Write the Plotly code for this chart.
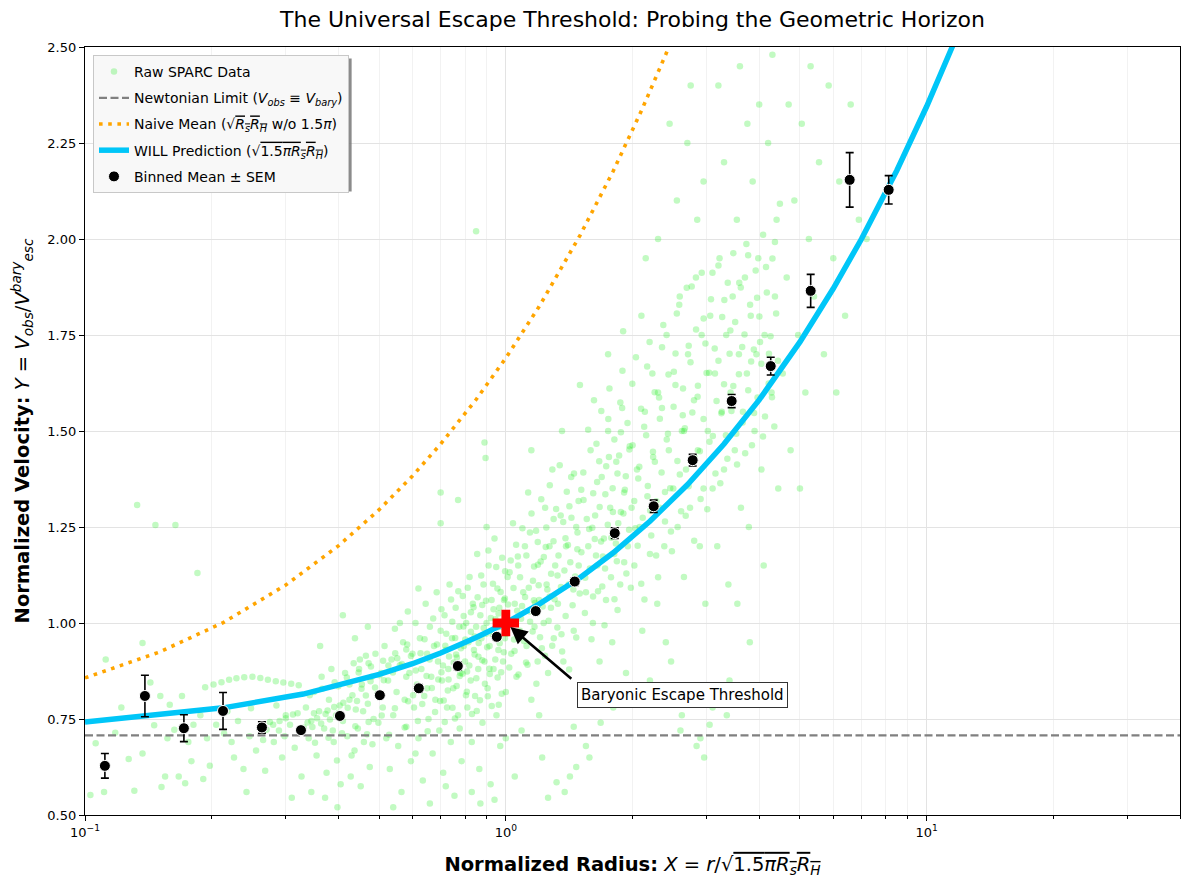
import numpy as np
import plotly.graph_objects as go

# ---- data ----
# raw SPARC points (normalized radius X, normalized velocity Y), grouped by radius range
raw_inner = [(0.103,0.552),(0.111,0.560),(0.131,0.563),(0.127,0.646),(0.106,0.687),(0.118,0.714),(0.137,0.948),
	(0.133,1.307),(0.147,1.255),(0.164,1.255),(0.185,1.130),(0.137,0.660),(0.155,0.600),(0.152,0.573),(0.167,0.600),
	(0.173,0.583),(0.179,0.640),(0.151,0.810),(0.159,0.787),(0.170,0.810),(0.146,0.734),(0.157,0.700),(0.163,0.722),
	(0.191,0.594),(0.198,0.628),(0.112,0.905),(0.122,0.780),(0.143,0.845),(0.188,0.760),(0.195,0.700),(0.181,0.735),
	(0.176,0.690)]
raw_band = [(0.193,0.833),(0.202,0.840),(0.211,0.846),(0.220,0.852),(0.229,0.856),(0.239,0.859),(0.250,0.860),
	(0.261,0.857),(0.272,0.852),(0.284,0.848),(0.296,0.845),(0.309,0.842),(0.322,0.838),
	(0.270,0.722),(0.280,0.735),(0.290,0.745),(0.300,0.752),(0.312,0.762)]
raw_low = [(0.205,0.735),(0.214,0.712),(0.223,0.690),(0.231,0.745),(0.238,0.620),(0.246,0.705),(0.255,0.668),
	(0.262,0.728),(0.268,0.615),(0.275,0.742),(0.281,0.690),(0.289,0.720),(0.294,0.650),(0.300,0.760),(0.307,0.735),
	(0.315,0.675),(0.320,0.765),(0.327,0.600),(0.218,0.770),(0.248,0.778),(0.285,0.785),(0.242,0.560),(0.310,0.545),
	(0.226,0.650),(0.265,0.695),(0.298,0.705),
	(0.335,0.780),(0.340,0.700),(0.345,0.745),(0.350,0.820),(0.355,0.655),(0.360,0.770),(0.365,0.860),(0.370,0.725),
	(0.375,0.610),(0.380,0.800),(0.385,0.880),(0.390,0.690),(0.395,0.760),(0.400,0.835),(0.405,0.580),(0.410,0.745),
	(0.415,0.870),(0.420,0.705),(0.425,0.800),(0.430,0.655),(0.435,0.895),(0.440,0.775),(0.445,0.725),(0.450,0.905),
	(0.455,0.840),(0.460,0.690),(0.465,0.915),(0.470,0.790),(0.475,0.625),(0.480,0.860),(0.485,0.750),(0.490,0.920),
	(0.495,0.815),(0.345,0.560),(0.372,0.545),(0.398,0.520),(0.428,0.600),(0.452,0.575),(0.438,0.960),(0.470,0.990),
	(0.362,0.940),(0.410,1.020),(0.388,0.720),(0.468,0.710),(0.458,0.770),(0.498,0.740),(0.350,0.765),(0.377,0.772),
	(0.403,0.785),(0.425,0.840),(0.448,0.880),(0.472,0.895)]
raw_tracks = [(0.331,0.728),(0.338,0.741),(0.347,0.729),(0.356,0.752),(0.364,0.738),(0.373,0.763),(0.382,0.749),
	(0.391,0.781),(0.401,0.766),(0.411,0.792),(0.421,0.779),(0.432,0.812),(0.443,0.797),(0.454,0.829),(0.465,0.811),
	(0.477,0.848),(0.489,0.832),(0.501,0.864),(0.513,0.851),(0.526,0.889),(0.539,0.871),(0.552,0.908),(0.566,0.893),
	(0.580,0.931),(0.595,0.914),(0.342,0.812),(0.366,0.829),(0.392,0.846),(0.419,0.858),(0.447,0.871),(0.478,0.887),
	(0.511,0.902),(0.546,0.921),(0.583,0.944),(0.352,0.688),(0.379,0.701),(0.408,0.713),(0.439,0.731),(0.472,0.742),
	(0.507,0.759),(0.545,0.778),(0.586,0.796),(0.397,0.642),(0.437,0.668),(0.482,0.684),(0.528,0.709),(0.575,0.728)]
raw_mid = [(0.505,0.870),(0.510,0.780),(0.515,0.940),(0.520,0.700),(0.525,0.850),(0.530,0.620),(0.535,0.905),
	(0.540,0.760),(0.545,0.985),(0.550,0.820),(0.555,0.680),(0.560,0.890),(0.565,0.560),(0.570,0.950),(0.575,0.800),
	(0.580,0.730),(0.585,1.030),(0.590,0.870),(0.595,0.640),(0.600,0.920),(0.605,0.780),(0.610,1.000),(0.615,0.840),
	(0.620,0.700),(0.625,0.960),(0.630,0.880),(0.635,0.590),(0.640,0.810),(0.645,1.050),(0.650,0.920),(0.655,0.750),
	(0.660,0.990),(0.665,0.860),(0.670,0.660),(0.675,0.940),(0.680,0.800),(0.685,1.080),(0.690,0.900),(0.695,0.720),
	(0.700,0.980),(0.705,0.850),(0.710,0.610),(0.715,1.020),(0.720,0.930),(0.725,0.780),(0.730,0.880),(0.735,1.100),
	(0.740,0.690),(0.745,0.960),(0.750,0.830),(0.755,0.550),(0.760,1.040),(0.765,0.910),(0.770,0.760),(0.775,0.990),
	(0.780,0.870),(0.785,0.640),(0.790,1.070),(0.795,0.940),(0.700,1.340),(0.770,1.320),(0.700,1.260),(0.560,1.000),
	(0.620,1.090),(0.540,0.520),(0.660,0.530),(0.720,0.575),(0.610,0.660),(0.580,0.860),(0.650,0.830),
	(0.800,0.900),(0.805,1.000),(0.810,0.780),(0.815,0.950),(0.820,1.120),(0.825,0.850),(0.830,0.690),(0.835,1.050),
	(0.840,0.930),(0.845,0.810),(0.850,2.020),(0.850,0.990),(0.855,1.180),(0.860,0.880),(0.865,0.620),(0.870,1.020),
	(0.875,0.960),(0.880,0.740),(0.885,1.100),(0.890,1.470),(0.890,0.900),(0.895,1.430),(0.900,1.000),(0.905,0.830),
	(0.910,1.150),(0.915,0.940),(0.920,0.580),(0.925,1.060),(0.930,0.970),(0.935,0.880),(0.940,1.220),(0.945,1.010),
	(0.950,0.760),(0.955,1.090),(0.960,0.930),(0.965,1.040),(0.970,0.680),(0.975,0.990),(0.980,1.170),(0.985,0.900),
	(0.990,1.060),(0.995,0.960),(1.000,0.820),(1.010,1.120),(1.020,1.000),(1.030,0.920),(1.040,1.260),(1.050,1.050),
	(1.060,0.860),(1.070,1.150),(1.080,0.980),(1.090,0.720),(1.100,1.080),(1.110,1.200),(1.120,0.940),(1.130,1.340),
	(1.140,1.030),(1.150,0.800),(1.160,1.110),(1.170,0.990),(1.180,1.240),(1.190,0.900),(1.200,1.060),(1.210,1.160),
	(1.220,0.650),(1.230,1.000),(1.240,1.300),(1.250,1.100),(1.260,0.870),(1.270,1.200),(1.280,1.040),(1.290,1.400),
	(1.300,0.960),(0.830,0.560),(0.870,0.530),(0.940,0.540),(1.050,0.600),(1.000,0.700),(0.900,1.250),(1.150,1.450),
	(1.200,0.760)]
raw_core1 = [(0.602,0.812),(0.611,0.876),(0.618,0.745),(0.627,0.921),(0.633,0.789),(0.641,0.958),(0.648,0.862),
	(0.652,0.718),(0.659,0.905),(0.667,0.831),(0.672,1.012),(0.679,0.768),(0.686,0.944),(0.691,0.853),(0.698,0.797),
	(0.703,1.036),(0.709,0.889),(0.716,0.742),(0.722,0.972),(0.728,0.824),(0.733,0.913),(0.741,1.061),(0.747,0.779),
	(0.752,0.897),(0.758,0.961),(0.764,0.836),(0.771,1.083),(0.777,0.725),(0.782,0.934),(0.789,0.868),(0.794,1.018),
	(0.801,0.957),(0.808,0.821),(0.812,1.092),(0.819,0.889),(0.826,0.977),(0.831,0.763),(0.838,1.041),(0.843,0.918),
	(0.851,0.856),(0.857,1.067),(0.862,0.948),(0.868,0.799),(0.874,1.124),(0.879,0.903),(0.886,0.987),(0.892,0.842),
	(0.897,1.058),(0.903,0.937),(0.909,1.189),(0.914,0.881),(0.921,1.013),(0.926,0.784),(0.932,1.102),(0.938,0.969),
	(0.944,0.905),(0.949,1.146),(0.956,0.858),(0.961,1.025),(0.967,0.947),(0.972,1.081),(0.978,0.816),(0.984,1.003),
	(0.989,0.924),(0.996,1.135),
	(0.703,0.872),(0.718,0.941),(0.731,0.853),(0.746,1.003),(0.762,0.918),(0.777,0.862),(0.793,0.991),(0.809,0.874),
	(0.826,1.028),(0.843,0.965),(0.861,0.912),(0.879,1.047),(0.897,0.972),(0.916,0.867),(0.935,1.036),(0.955,0.989),
	(0.975,0.872),(0.995,1.064),(0.712,0.798),(0.757,0.751),(0.804,0.812),(0.853,0.771),(0.906,0.809),(0.962,0.787)]
raw_core2 = [(1.004,0.972),(1.012,1.048),(1.019,0.884),(1.027,1.163),(1.035,0.998),(1.043,1.091),(1.049,0.927),
	(1.058,1.204),(1.064,1.032),(1.072,0.866),(1.081,1.119),(1.087,1.011),(1.095,1.247),(1.104,0.953),(1.111,1.068),
	(1.119,1.176),(1.126,0.891),(1.134,1.092),(1.142,1.003),(1.151,1.285),(1.158,0.978),(1.167,1.147),(1.173,1.052),
	(1.182,0.842),(1.191,1.211),(1.197,1.098),(1.206,0.963),(1.214,1.322),(1.223,1.043),(1.231,1.172),(1.239,0.915),
	(1.248,1.249),(1.255,1.087),(1.264,1.006),(1.272,1.359),(1.281,1.128),(1.289,0.941),(1.298,1.213),(1.306,1.062),
	(1.317,1.297),(1.326,0.988),(1.334,1.176),(1.343,1.411),(1.352,1.094),(1.361,0.926),(1.369,1.263),(1.378,1.137),
	(1.387,1.018),(1.396,1.342),(1.405,1.203),(1.414,0.879),(1.423,1.158),(1.432,1.274),(1.441,1.046),(1.452,1.389),
	(1.461,1.121),(1.470,0.962),(1.480,1.236),(1.489,1.318),(1.498,1.077),
	(1.021,1.132),(1.046,0.957),(1.068,1.173),(1.093,1.044),(1.117,0.897),(1.141,1.236),(1.166,1.059),(1.192,1.152),
	(1.218,0.934),(1.244,1.198),(1.271,1.069),(1.299,1.271),(1.327,1.124),(1.356,0.971),(1.386,1.221),(1.416,1.304),
	(1.447,1.087),(1.479,1.192),(1.511,1.347),(1.544,1.118),(1.578,1.245),(1.612,1.069),(1.648,1.367),(1.684,1.212),
	(1.721,1.142),(1.758,1.432),(1.797,1.289),(1.836,1.161),(1.877,1.497),(1.918,1.347)]
raw_outer = [(1.31,1.150),(1.33,1.050),(1.35,1.280),(1.37,0.900),(1.39,1.200),(1.41,1.100),(1.43,1.380),(1.45,0.980),
	(1.47,1.250),(1.49,1.150),(1.51,0.820),(1.53,1.320),(1.55,1.080),(1.57,1.200),(1.59,1.450),(1.61,1.000),(1.63,1.280),
	(1.65,1.150),(1.67,0.900),(1.69,1.380),(1.71,1.220),(1.73,1.060),(1.75,1.500),(1.77,1.300),(1.79,0.950),(1.81,1.180),
	(1.83,1.420),(1.85,1.260),(1.87,1.100),(1.89,1.560),(1.91,1.340),(1.93,0.870),(1.95,1.200),(1.97,1.460),(1.99,1.300),
	(1.42,0.600),(1.55,0.680),(1.68,0.740),(1.50,1.620),(1.75,1.700),(1.90,1.760),(1.36,1.500),(1.62,1.580),(1.80,0.780),
	(1.45,0.730),
	(2.02,1.150),(2.05,1.400),(2.08,1.250),(2.11,0.980),(2.14,1.550),(2.17,1.330),(2.20,1.180),(2.23,1.650),(2.26,1.420),
	(2.29,1.050),(2.32,1.300),(2.35,1.560),(2.38,1.200),(2.41,1.750),(2.44,1.450),(2.47,0.900),(2.50,1.350),(2.53,1.620),
	(2.56,1.250),(2.59,1.850),(2.62,1.500),(2.65,1.120),(2.68,1.400),(2.71,1.700),(2.74,1.300),(2.77,0.800),(2.80,1.580),
	(2.83,1.900),(2.86,1.450),(2.89,1.200),(2.92,1.750),(2.95,1.350),(2.98,1.050),(2.10,1.800),(2.30,2.000),(2.55,2.100),
	(2.70,2.250),(2.85,2.050),(2.20,0.850),(2.60,0.720),(2.90,0.700),(2.40,0.950),(2.15,1.950),(2.45,2.300),(2.75,2.400),
	(2.95,2.150),(2.30,1.600),(2.65,1.500),
	(1.32,0.585),(1.38,0.560),(1.47,0.625),(1.58,0.650),(1.26,0.545),(2.62,0.760),(2.84,0.680),(3.05,0.735),
	(3.22,0.800),(2.96,0.650),(3.35,0.760),(2.55,0.820)]
raw_core3 = [(1.512,1.184),(1.528,1.392),(1.541,1.026),(1.557,1.271),(1.569,1.503),(1.584,1.142),(1.598,0.958),
	(1.613,1.338),(1.627,1.219),(1.642,1.467),(1.656,1.083),(1.671,1.302),(1.686,1.552),(1.701,1.173),(1.716,0.994),
	(1.732,1.408),(1.747,1.256),(1.763,1.611),(1.778,1.119),(1.794,1.351),(1.811,1.478),(1.826,1.207),(1.843,1.034),
	(1.859,1.436),(1.876,1.289),(1.893,1.657),(1.911,1.158),(1.928,1.382),(1.946,1.521),(1.963,1.243),(1.982,1.092),
	(2.001,1.463),(2.019,1.318),(2.038,1.692),(2.057,1.201),(2.076,1.407),(2.096,1.558),(2.115,1.274),(2.135,1.061),
	(2.155,1.489),(2.175,1.357),(2.196,1.732),(2.216,1.228),(2.237,1.446),(2.258,1.601),(2.279,1.317),(2.301,1.119),
	(2.323,1.532),(2.345,1.392),(2.367,1.776),(2.389,1.264),(2.412,1.478),(2.435,1.647),(2.458,1.351),(2.481,1.187)]
raw_core4 = [(2.504,1.563),(2.531,1.702),(2.557,1.422),(2.583,1.829),(2.609,1.291),(2.637,1.611),(2.663,1.507),
	(2.691,1.873),(2.719,1.356),(2.747,1.679),(2.775,1.548),(2.803,1.214),(2.832,1.764),(2.861,1.618),(2.891,1.447),
	(2.921,1.912),(2.950,1.531),(2.981,1.728),(3.011,1.296),(3.042,1.652),(3.073,1.843),(3.104,1.487),(3.136,1.715),
	(3.168,1.578),(3.201,1.931),(3.233,1.364),(3.267,1.797),(3.300,1.622),(3.334,1.489),(3.368,1.886),(3.402,1.701),
	(3.437,1.552),(3.472,1.963),(3.508,1.784),(3.544,1.413),(3.580,1.648),(3.617,1.874),(3.654,1.522),(3.691,1.751),
	(3.729,1.987),(3.767,1.606),(3.806,1.829),(3.845,1.463),(3.884,1.712),(3.924,1.918),(3.964,1.587),(4.004,1.798),
	(4.046,1.675),(4.087,2.011),(4.129,1.538),(4.171,1.861),(4.214,1.624),(4.257,1.747),(4.301,1.949),(4.345,1.512),
	(4.389,1.806),(4.434,1.683),(4.480,2.092)]
raw_core5 = [(1.605,1.248),(1.638,1.176),(1.667,1.421),(1.695,1.095),(1.724,1.335),(1.752,1.531),(1.781,1.222),
	(1.812,1.062),(1.842,1.389),(1.871,1.574),(1.903,1.285),(1.934,1.129),(1.966,1.452),(1.998,1.623),(2.031,1.247),
	(2.064,1.376),(2.098,1.102),(2.132,1.511),(2.167,1.668),(2.203,1.293),(2.239,1.432),(2.276,1.176),(2.313,1.587),
	(2.351,1.718),(2.389,1.341),(2.428,1.493),(2.468,1.238),(2.508,1.654),(2.549,1.806),(2.591,1.387),(2.633,1.541),
	(2.676,1.279),(2.720,1.722),(2.765,1.876),(2.810,1.431),(2.856,1.589),(2.903,1.323),(2.951,1.793),(2.999,1.651),
	(3.048,1.472),(3.098,1.912),(3.149,1.389),(3.201,1.683),(3.253,1.546),(3.306,1.841),(3.361,1.428),(3.416,1.762),
	(3.472,1.617),(3.529,1.493),(3.587,1.886),(3.645,1.719),(3.705,1.442),(3.766,1.958),(3.828,1.681),(3.890,1.547),
	(3.954,1.847),(4.019,1.732),(4.085,1.486),(4.152,1.927),(4.220,1.701),(4.290,1.588),(4.360,1.992)]
raw_far = [(3.02,1.500),(3.06,1.800),(3.10,1.350),(3.14,1.650),(3.18,1.200),(3.22,1.950),(3.26,1.550),(3.30,1.400),
	(3.34,1.750),(3.38,1.100),(3.42,1.600),(3.46,1.850),(3.50,1.450),(3.54,2.050),(3.58,1.700),(3.62,1.300),(3.66,1.550),
	(3.70,1.900),(3.74,1.650),(3.78,1.250),(3.82,1.800),(3.86,2.150),(3.90,1.500),(3.94,1.700),(3.98,1.950),(4.05,1.400),
	(4.12,1.750),(4.20,2.250),(4.28,1.600),(4.36,1.850),(4.44,1.350),(3.20,2.400),(3.60,2.450),(4.00,2.350),(4.30,2.480),
	(3.40,0.850),(3.80,0.950),(3.10,0.780),(4.10,1.150),(3.55,1.050),(3.30,2.200),(3.75,2.300),(4.40,2.050),
	(4.55,1.650),(4.65,1.900),(4.75,1.450),(4.85,2.100),(4.95,1.750),(5.05,2.300),(5.15,1.600),(5.25,2.000),(5.40,1.850),
	(5.55,2.200),(5.70,1.700),(5.85,2.400),(6.00,1.950),(6.20,2.150),(6.40,1.800),(6.60,2.350),(6.90,2.050),(5.00,1.350),
	(5.30,2.450),(4.70,2.350),(6.10,1.600),(7.20,2.000)]

# binned means with standard error
bin_x = [0.1115, 0.1388, 0.1718, 0.2128, 0.2633, 0.3260, 0.4034, 0.5020, 0.6213, 0.7691, 0.9519,
	1.178, 1.458, 1.815, 2.246, 2.780, 3.441, 4.261, 5.302, 6.563, 8.125]
bin_y = [0.628, 0.810, 0.726, 0.771, 0.728, 0.721, 0.758, 0.812, 0.830, 0.888, 0.964,
	1.031, 1.108, 1.234, 1.304, 1.424, 1.578, 1.669, 1.865, 2.154, 2.128]
bin_sem = [0.032, 0.054, 0.035, 0.048, 0.015, 0.007, 0.007, 0.008, 0.010, 0.010, 0.008,
	0.008, 0.010, 0.014, 0.016, 0.015, 0.017, 0.023, 0.043, 0.071, 0.037]

# model curves
will_x = [0.1, 0.213, 0.33, 0.4, 0.5, 0.6, 0.7, 0.85, 1.0, 1.2, 1.5, 1.8, 2.2, 2.7, 3.3, 4.0, 5.0, 6.0, 7.0, 8.5, 10.0, 11.5, 12.5]
will_y = [0.742, 0.779, 0.815, 0.837, 0.866, 0.894, 0.922, 0.962, 1.000, 1.049, 1.118, 1.183, 1.265, 1.360, 1.466, 1.581,
	1.732, 1.871, 2.000, 2.179, 2.345, 2.500, 2.598]
naive_x = [0.1, 0.15, 0.213, 0.3, 0.4, 0.5, 0.6, 0.7, 0.85, 1.0, 1.2, 1.5, 1.8, 2.1, 2.4, 2.7]
naive_y = [0.857, 0.924, 1.001, 1.099, 1.201, 1.295, 1.383, 1.466, 1.582, 1.690, 1.824, 2.009, 2.177, 2.334, 2.481, 2.619]
newton_x = [0.1, 40]
newton_y = [0.7071, 0.7071]

threshold = (1.0, 1.0)

raw = (raw_inner + raw_band + raw_low + raw_tracks + raw_mid + raw_core1 + raw_core2
	+ raw_outer + raw_core3 + raw_core4 + raw_core5 + raw_far)
raw_x = [p[0] for p in raw]
raw_y = [p[1] for p in raw]

font = "DejaVu Sans, Verdana, sans-serif"
ovl = "<span style='text-decoration:overline'>"

fig = go.Figure()

fig.add_trace(go.Scatter(x=raw_x, y=raw_y, mode="markers", name="Raw SPARC Data", legendgroup="a",
	marker=dict(size=6.5, color="rgba(30,235,30,0.27)", line=dict(width=0))))

fig.add_trace(go.Scatter(x=newton_x, y=newton_y, mode="lines", legendgroup="b",
	name="Newtonian Limit (<i>V<sub>obs</sub></i> ≡ <i>V<sub>bary</sub></i>)",
	line=dict(color="#808080", width=2.2, dash="8px,3.5px")))

fig.add_trace(go.Scatter(x=naive_x, y=naive_y, mode="lines", legendgroup="c",
	name="Naive Mean (√" + ovl + "<i>R<sub>s</sub>R<sub>H</sub></i></span> w/o 1.5<i>π</i>)",
	line=dict(color="orange", width=3.6, dash="3.6px,5.6px")))

fig.add_trace(go.Scatter(x=will_x, y=will_y, mode="lines", legendgroup="d",
	name="WILL Prediction (√" + ovl + "1.5<i>πR<sub>s</sub>R<sub>H</sub></i></span>)",
	line=dict(color="#00C6F8", width=5.5)))

fig.add_trace(go.Scatter(x=bin_x, y=bin_y, mode="markers", name="Binned Mean ± SEM", legendgroup="e",
	marker=dict(size=11, color="black", line=dict(color="white", width=1)),
	error_y=dict(type="data", array=bin_sem, color="black", thickness=1.6, width=4)))

fig.add_trace(go.Scatter(x=[threshold[0]], y=[threshold[1]], mode="markers", showlegend=False,
	marker=dict(symbol="cross", size=22, color="red", line=dict(width=0))))

# arrow and label for the threshold
fig.add_annotation(x=0, y=1.0, xref="x", yref="y", text="", showarrow=True,
	ax=67, ay=57, arrowhead=2, arrowsize=1.3, arrowwidth=2.6, arrowcolor="black", standoff=6)
fig.add_annotation(x=np.log10(2.63), y=0.8125, xref="x", yref="y", text="Baryonic Escape Threshold",
	showarrow=False, font=dict(family=font, size=15, color="black"),
	bgcolor="white", bordercolor="#333333", borderwidth=1, borderpad=3)

# legend drop shadow
fig.add_shape(type="rect", xref="paper", yref="paper", x0=0.0115, x1=0.2435, y0=0.812, y1=0.985,
	fillcolor="rgba(110,110,110,0.8)", line=dict(width=0), layer="above")

minor_vals = [0.2, 0.3, 0.4, 0.5, 0.6, 0.7, 0.8, 0.9, 2, 3, 4, 5, 6, 7, 8, 9, 20, 30, 40]

fig.update_layout(
	width=1182, height=882,
	margin=dict(l=77, r=10, t=39, b=75),
	paper_bgcolor="white", plot_bgcolor="white",
	font=dict(family=font, size=13, color="black"),
	title=dict(text="The Universal Escape Threshold: Probing the Geometric Horizon",
		x=0.5, xref="paper", y=1 - 11 / 882, yref="container", yanchor="middle",
		font=dict(family=font, size=22, color="black")),
	showlegend=True,
	legend=dict(x=0.0073, y=0.9896, xanchor="left", yanchor="top",
		bgcolor="rgba(248,248,248,1)", bordercolor="#c8c8c8", borderwidth=1,
		font=dict(family=font, size=14), tracegroupgap=5),
	xaxis=dict(type="log", range=[-1, np.log10(40)],
		tickvals=[0.1, 1, 10], ticktext=["10<sup>−1</sup>", "10<sup>0</sup>", "10<sup>1</sup>"],
		ticks="outside", ticklen=5, tickcolor="black",
		showline=True, linecolor="black", linewidth=1.2, mirror=True,
		showgrid=True, gridcolor="#e3e3e3", gridwidth=1, zeroline=False,
		minor=dict(tickvals=minor_vals, ticks="outside", ticklen=3, tickcolor="black",
			showgrid=True, gridcolor="#f2f2f2", gridwidth=1),
		title=dict(text="<b>Normalized Radius:</b> <i>X</i> = <i>r</i>/√" + ovl + "1.5<i>πR<sub>s</sub>R<sub>H</sub></i></span>",
			font=dict(family=font, size=19.5), standoff=18)),
	yaxis=dict(range=[0.5, 2.5], tick0=0.5, dtick=0.25, tickformat=".2f",
		ticks="outside", ticklen=5, tickcolor="black",
		showline=True, linecolor="black", linewidth=1.2, mirror=True,
		showgrid=True, gridcolor="#e3e3e3", gridwidth=1, zeroline=False,
		title=dict(text="<b>Normalized Velocity:</b> <i>Y</i> = <i>V<sub>obs</sub></i>/<i>V<sup>bary</sup><sub>esc</sub></i>",
			font=dict(family=font, size=19.5), standoff=12)),
)

fig.write_html("out.html")
